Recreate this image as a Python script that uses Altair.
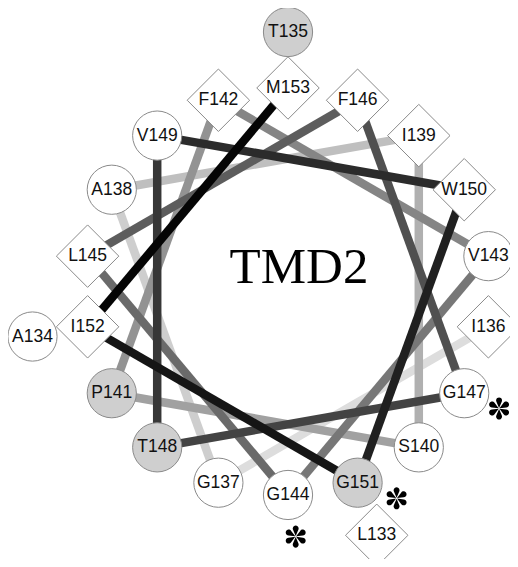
import math
import altair as alt
import pandas as pd

# ---- data read from the helical wheel ----
residue_num = list(range(133, 154))
residue_aa = list("LATIGAISPFVGLFGTVWGIM")
residue_shape = ["diamond", "circle", "circle", "diamond", "circle", "circle", "diamond",
                 "circle", "circle", "diamond", "circle", "circle", "diamond", "diamond",
                 "circle", "circle", "circle", "diamond", "circle", "diamond", "diamond"]
residue_gray = [0, 0, 1, 0, 0, 0, 0, 0, 1, 0, 0, 0, 0, 0, 0, 1, 0, 0, 1, 0, 0]
segment_start = list(range(136, 153))      # segment n -> n+1
asterisk_residue = [144, 147, 151]
asterisk_angle = [178.2, 119.0, 152.3]
asterisk_radius = [1.205, 1.186, 1.148]
title_text = ["TMD2"]

res_df = pd.DataFrame({"n": residue_num, "aa": residue_aa,
                       "shape": residue_shape, "gray": residue_gray})
seg_df = pd.DataFrame({"n": segment_start})
ast_df = pd.DataFrame({"res": asterisk_residue, "ang": asterisk_angle, "r": asterisk_radius})
ttl_df = pd.DataFrame({"t": title_text})

# asterisk glyph: six tear-drop arms
arms = []
for k in range(6):
    a = math.radians(60 * k)
    ca, sa = math.cos(a), math.sin(a)
    def rot(px, py):
        return (px * ca - py * sa, px * sa + py * ca)
    p0 = rot(0, -0.05)
    p1 = rot(-0.26, -0.66)
    p2 = rot(0.26, -0.66)
    arms.append("M%.3f,%.3fL%.3f,%.3fA0.29,0.29 0 1,1 %.3f,%.3fZ" % (p0 + p1 + p2))
asterisk_path = "".join(arms)

OUTER = 1.275
xs = alt.Scale(domain=[-1.376, 1.091], nice=False, zero=False)
ys = alt.Scale(domain=[-1.3146, 1.393], nice=False, zero=False)

X = alt.X("x:Q", scale=xs, axis=None)
Y = alt.Y("y:Q", scale=ys, axis=None)

segments = alt.Chart(seg_df).transform_calculate(
    a1="(datum.n - 153) * 100 * PI / 180",
    a2="(datum.n + 1 - 153) * 100 * PI / 180",
).transform_calculate(
    x="sin(datum.a1)", y="cos(datum.a1)",
    x2="sin(datum.a2)", y2="cos(datum.a2)",
).mark_rule(strokeWidth=8.5, strokeCap="butt").encode(
    x=X, y=Y, x2="x2:Q", y2="y2:Q",
    color=alt.Color("n:Q", scale=alt.Scale(domain=[136, 152], range=["#dddddd", "#050505"]),
                    legend=None),
)

res_base = alt.Chart(res_df).transform_calculate(
    ang="(datum.n - 153) * 100 * PI / 180",
    rad="datum.n < 136 ? %f : 1" % OUTER,
    label="datum.aa + datum.n",
    fillc="datum.gray == 1 ? '#cfcfcf' : '#ffffff'",
    sz="datum.shape == 'diamond' ? 3900 : 2420",
).transform_calculate(
    x="datum.rad * sin(datum.ang)", y="datum.rad * cos(datum.ang)",
)

symbols = res_base.mark_point(filled=True, opacity=1, stroke="#8a8a8a", strokeWidth=1).encode(
    x=X, y=Y,
    shape=alt.Shape("shape:N", scale=None),
    fill=alt.Fill("fillc:N", scale=None),
    size=alt.Size("sz:Q", scale=None),
)

labels = res_base.mark_text(font="Liberation Sans", fontSize=17.5, align="center",
                            baseline="middle", color="#111111").encode(
    x=X, y=Y, text="label:N",
)

title = alt.Chart(ttl_df).transform_calculate(x="0", y="0").mark_text(
    font="Liberation Serif", fontSize=51, align="center", baseline="alphabetic",
    dx=11, dy=-8, color="#000000",
).encode(x=X, y=Y, text="t:N")

asterisks = alt.Chart(ast_df).transform_calculate(
    x="datum.r * sin(datum.ang * PI / 180)", y="datum.r * cos(datum.ang * PI / 180)",
).mark_point(shape=asterisk_path, filled=True, fill="#000000", opacity=1, size=420,
             strokeWidth=0).encode(x=X, y=Y)

chart = alt.layer(segments, symbols, labels, title, asterisks).properties(
    width=502, height=551, padding=0,
    autosize=alt.AutoSizeParams(type="none"),
).configure_view(stroke=None)

chart.save("out.html", embed_options={"renderer": "svg", "actions": False})
